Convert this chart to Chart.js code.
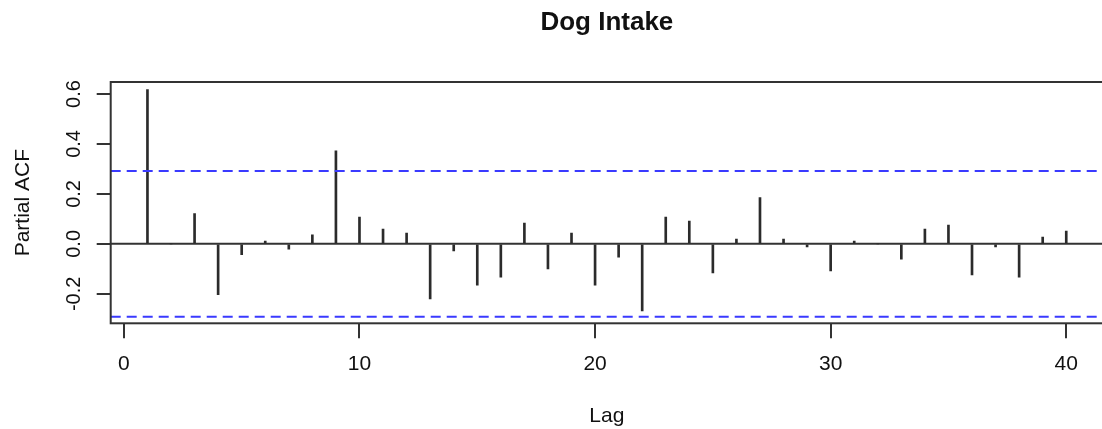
<!DOCTYPE html>
<html>
<head>
<meta charset="utf-8">
<script src="https://cdn.jsdelivr.net/npm/chart.js@4.4.1/dist/chart.umd.min.js"></script>
<style>
  html, body { margin: 0; padding: 0; background: #fff; overflow: hidden; }
  #wrap { width: 1110px; height: 429px; }
</style>
</head>
<body>
<div id="wrap"><canvas id="c" width="1110" height="429"></canvas></div>
<script>
// ---- data ----
const lags = [1,2,3,4,5,6,7,8,9,10,11,12,13,14,15,16,17,18,19,20,21,22,23,24,25,26,27,28,29,30,31,32,33,34,35,36,37,38,39,40];
const pacfValues = [0.618,0.000,0.121,-0.203,-0.043,0.011,-0.021,0.036,0.372,0.107,
                    0.059,0.043,-0.220,-0.028,-0.165,-0.133,0.083,-0.100,0.043,-0.165,
                    -0.053,-0.268,0.107,0.091,-0.116,0.019,0.185,0.019,-0.012,-0.108,
                    0.011,0.000,-0.061,0.059,0.075,-0.124,-0.012,-0.133,0.027,0.051];
const ciUpper = 0.292;
const ciLower = -0.292;
const xTicks = [0, 10, 20, 30, 40];
const yTicks = [-0.2, 0.0, 0.2, 0.4, 0.6];
const yTickLabels = ["-0.2", "0.0", "0.2", "0.4", "0.6"];
const xRange = [-0.56, 41.56];
const yRange = [-0.318, 0.648];
const titleText = "Dog Intake";
const xTitle = "Lag";
const yTitle = "Partial ACF";

Chart.defaults.font.family = "'Liberation Sans', Arial, sans-serif";
Chart.defaults.color = "#111";

const spikes = lags.map((l, i) => ({ x: l, y: pacfValues[i] }));
const hline = (v) => [{ x: xRange[0], y: v }, { x: xRange[1], y: v }];

const frame = {
  id: 'frame',
  afterDraw(chart) {
    const { ctx, chartArea: a } = chart;
    ctx.save();
    ctx.strokeStyle = '#333';
    ctx.lineWidth = 2;
    ctx.strokeRect(a.left, a.top, a.right - a.left, a.bottom - a.top);
    // rotated y tick labels (R style)
    const ys = chart.scales.y;
    ctx.fillStyle = '#111';
    ctx.font = "20px 'Liberation Sans', Arial, sans-serif";
    ctx.textAlign = 'center';
    ctx.textBaseline = 'middle';
    yTicks.forEach((v, i) => {
      const py = ys.getPixelForValue(v);
      ctx.save();
      ctx.translate(a.left - 36, py);
      ctx.rotate(-Math.PI / 2);
      ctx.fillText(yTickLabels[i], 0, 0);
      ctx.restore();
    });
    ctx.restore();
  }
};

new Chart(document.getElementById('c'), {
  type: 'bar',
  data: {
    datasets: [
      { type: 'line', data: hline(0), borderColor: '#333', borderWidth: 2, pointRadius: 0, order: 3 },
      { type: 'line', data: hline(ciUpper), borderColor: '#3a3aff', borderWidth: 2, borderDash: [10, 6], pointRadius: 0, order: 1 },
      { type: 'line', data: hline(ciLower), borderColor: '#3a3aff', borderWidth: 2, borderDash: [10, 6], pointRadius: 0, order: 1 },
      { type: 'bar', data: spikes, backgroundColor: '#2b2b2b', barThickness: 2, order: 2 }
    ]
  },
  options: {
    responsive: false,
    devicePixelRatio: 1,
    animation: false,
    layout: { padding: { left: 0, right: 7, top: 0, bottom: 0 } },
    plugins: {
      legend: { display: false },
      tooltip: { enabled: false },
      title: {
        display: true, text: titleText, fullSize: false,
        font: { size: 26, weight: 'bold', lineHeight: 1.2 }, color: '#111',
        padding: { top: 7, bottom: 43.8 }
      }
    },
    scales: {
      x: {
        type: 'linear', min: xRange[0], max: xRange[1], offset: false,
        afterBuildTicks: (s) => { s.ticks = xTicks.map(v => ({ value: v })); },
        afterFit: (s) => { s.height = 105.7; },
        grid: { offset: false, drawOnChartArea: false, drawTicks: true, tickLength: 15, color: '#333', lineWidth: 2 },
        border: { display: false },
        ticks: { font: { size: 21 }, color: '#111', padding: 13, maxRotation: 0, autoSkip: false },
        title: { display: true, text: xTitle, font: { size: 21, lineHeight: 1.1 }, color: '#111', padding: { top: 0, bottom: 1 } }
      },
      y: {
        type: 'linear', min: yRange[0], max: yRange[1],
        afterBuildTicks: (s) => { s.ticks = yTicks.map(v => ({ value: v })); },
        afterFit: (s) => { s.width = 110.7; },
        grid: { offset: false, drawOnChartArea: false, drawTicks: true, tickLength: 14, color: '#333', lineWidth: 2 },
        border: { display: false },
        ticks: { display: false },
        title: { display: true, text: yTitle, font: { size: 21 }, color: '#111', padding: { top: 11, bottom: 0 } }
      }
    }
  },
  plugins: [frame]
});
</script>
</body>
</html>
